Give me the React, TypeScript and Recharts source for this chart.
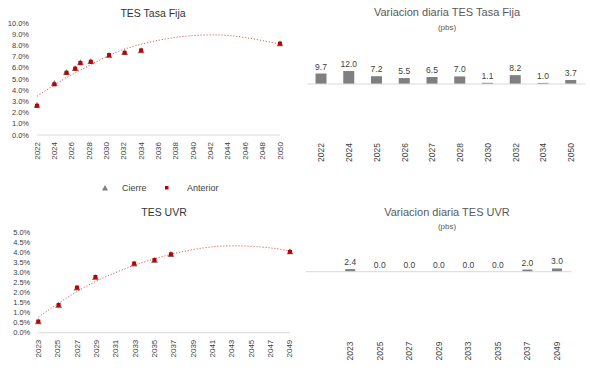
import React from 'react';
import {
  ComposedChart, BarChart, Bar, Line, Scatter, XAxis, YAxis, ReferenceLine, LabelList,
} from 'recharts';

// TES Tasa Fija curve (years are fractional maturities)
const fijaYears = [2022.0, 2024.0, 2025.4, 2026.4, 2027.0, 2028.2, 2030.3, 2032.1, 2034.0, 2050.0];
const fijaCierre = [2.66, 4.6, 5.58, 5.94, 6.45, 6.56, 7.1, 7.37, 7.52, 8.15];
const fijaAnterior = [2.56, 4.48, 5.51, 5.88, 6.39, 6.49, 7.09, 7.29, 7.51, 8.11];
const fijaTrendYears = [2022, 2025, 2028, 2031, 2034, 2037, 2040, 2043, 2046, 2050];
const fijaTrend = [3.45, 4.95, 6.2, 7.35, 8.1, 8.6, 8.88, 8.93, 8.7, 8.12];
const fijaTicks = [2022, 2024, 2026, 2028, 2030, 2032, 2034, 2036, 2038, 2040, 2042, 2044, 2046, 2048, 2050];
const fijaYTicks = [0, 1, 2, 3, 4, 5, 6, 7, 8, 9, 10];

// variacion diaria tasa fija (pbs)
const fijaCats = ['2022', '2024', '2025', '2026', '2027', '2028', '2030', '2032', '2034', '2050'];
const fijaVar = [9.7, 12.0, 7.2, 5.5, 6.5, 7.0, 1.1, 8.2, 1.0, 3.7];

// TES UVR curve
const uvrYears = [2023.0, 2025.1, 2027.0, 2028.9, 2032.9, 2035.0, 2036.7, 2049.0];
const uvrCierre = [0.55, 1.36, 2.22, 2.75, 3.42, 3.6, 3.9, 4.03];
const uvrAnterior = [0.53, 1.36, 2.22, 2.75, 3.42, 3.6, 3.88, 4.0];
const uvrTrendYears = [2023, 2027, 2031, 2035, 2039, 2043, 2047, 2049];
const uvrTrend = [0.77, 2.05, 3.0, 3.68, 4.14, 4.33, 4.22, 4.05];
const uvrTicks = [2023, 2025, 2027, 2029, 2031, 2033, 2035, 2037, 2039, 2041, 2043, 2045, 2047, 2049];
const uvrYTicks = [0, 0.5, 1, 1.5, 2, 2.5, 3, 3.5, 4, 4.5, 5];

// variacion diaria UVR (pbs), first slot is empty in the original
const uvrCats = ['', '2023', '2025', '2027', '2029', '2033', '2035', '2037', '2049'];
const uvrVar = [null, 2.4, 0.0, 0.0, 0.0, 0.0, 0.0, 2.0, 3.0];

const toPts = (xs: number[], ys: number[]) => xs.map((x, i) => ({ x, y: ys[i] }));

const GRAY = '#7f7f7f';
const RED = '#c00000';
const TXT = '#404040';
const FONT = '"Liberation Sans", Arial, sans-serif';

const Tri = (p: any) => (
  <polygon
    points={`${p.cx},${p.cy - 3.5} ${p.cx - 3.5},${p.cy + 2.5} ${p.cx + 3.5},${p.cy + 2.5}`}
    fill={GRAY}
  />
);
const Sq = (p: any) => <rect x={p.cx - 2} y={p.cy - 2.5} width={4} height={4} fill={RED} />;

const rotTick = (fs: number) => (p: any) => (
  <text
    x={p.x}
    y={p.y}
    transform={`rotate(-90, ${p.x}, ${p.y})`}
    textAnchor="end"
    dominantBaseline="central"
    fontSize={fs}
    fill={TXT}
    fontFamily={FONT}
  >
    {p.payload.value}
  </text>
);

const pct = (v: number) => v.toFixed(1) + '%';

function Title({ x, y, text, size, color }: { x: number; y: number; text: string; size: number; color: string }) {
  return (
    <div style={{
      position: 'absolute', left: x - 150, top: y - size * 0.6, width: 300, textAlign: 'center',
      fontSize: size, color, fontFamily: FONT, fontWeight: 400, lineHeight: 1.2 + '', whiteSpace: 'nowrap',
    }}>{text}</div>
  );
}

function CurveChart(props: {
  cierre: any[]; anterior: any[]; trend: any[]; ticks: number[]; yTicks: number[];
  height: number; margin: any; xAxisH: number;
}) {
  const { cierre, anterior, trend, ticks, yTicks, height, margin, xAxisH } = props;
  return (
    <ComposedChart width={300} height={height} margin={margin}>
      <XAxis
        type="number" dataKey="x" domain={[ticks[0], ticks[ticks.length - 1]]} ticks={ticks}
        interval={0} height={xAxisH} tickLine={false} tickSize={0} tickMargin={7}
        axisLine={{ stroke: '#d9d9d9' }} tick={rotTick(8)}
      />
      <YAxis
        type="number" dataKey="y" domain={[yTicks[0], yTicks[yTicks.length - 1]]} ticks={yTicks}
        interval={0} width={35} axisLine={false} tickLine={false} tickSize={0} tickMargin={8}
        tickFormatter={pct} tick={{ fontSize: 7.5, fill: TXT, fontFamily: FONT }}
      />
      <Line
        data={trend} dataKey="y" type="natural" stroke="#e06060" strokeWidth={1}
        strokeDasharray="1.2 1.8" dot={false} activeDot={false} isAnimationActive={false}
      />
      <Scatter data={cierre} dataKey="y" shape={Tri} isAnimationActive={false} />
      <Scatter data={anterior} dataKey="y" shape={Sq} isAnimationActive={false} />
    </ComposedChart>
  );
}

function VarChart(props: {
  cats: string[]; vals: (number | null)[]; height: number; margin: any; xAxisH: number;
  domain: number[]; barSize: number;
}) {
  const { cats, vals, height, margin, xAxisH, domain, barSize } = props;
  const data = cats.map((c, i) => ({ cat: c, v: vals[i] }));
  return (
    <BarChart width={289} height={height} data={data} margin={margin}>
      <XAxis
        dataKey="cat" interval={0} height={xAxisH} axisLine={false} tickLine={false}
        tickSize={0} tickMargin={5} tick={rotTick(8.5)}
      />
      <YAxis hide domain={domain} type="number" />
      <ReferenceLine y={0} stroke="#d9d9d9" />
      <Bar dataKey="v" fill={GRAY} barSize={barSize} minPointSize={0.01} isAnimationActive={false}>
        <LabelList
          dataKey="v" position="top" offset={4}
          formatter={(v: any) => (v == null ? '' : Number(v).toFixed(1))}
          style={{ fontSize: 8.5, fill: TXT, fontFamily: FONT }}
        />
      </Bar>
    </BarChart>
  );
}

export default function App() {
  return (
    <div style={{ position: 'absolute', left: 0, top: 0, width: 589, height: 381, background: '#fff', fontFamily: FONT }}>
      {/* top left */}
      <div style={{ position: 'absolute', left: 0, top: 0 }}>
        <CurveChart
          cierre={toPts(fijaYears, fijaCierre)} anterior={toPts(fijaYears, fijaAnterior)}
          trend={toPts(fijaTrendYears, fijaTrend)} ticks={fijaTicks} yTicks={fijaYTicks}
          height={200} margin={{ top: 23, right: 20, left: 2, bottom: 0 }} xAxisH={65}
        />
      </div>
      <Title x={153} y={13} text="TES Tasa Fija" size={10.5} color="#333" />
      <div style={{ position: 'absolute', left: 95, top: 182, height: 12, fontSize: 9, color: TXT, fontFamily: FONT }}>
        <svg width={140} height={12} style={{ position: 'absolute', left: 0, top: 0 }}>
          <polygon points="10,3 7,8.5 13,8.5" fill={GRAY} />
          <rect x={70} y={4} width={3.5} height={3.5} fill={RED} />
        </svg>
        <span style={{ position: 'absolute', left: 27, top: 0, lineHeight: '12px' }}>Cierre</span>
        <span style={{ position: 'absolute', left: 92, top: 0, lineHeight: '12px' }}>Anterior</span>
      </div>

      {/* top right */}
      <div style={{ position: 'absolute', left: 300, top: 0 }}>
        <VarChart
          cats={fijaCats} vals={fijaVar} height={200} domain={[-50, 30]} barSize={11}
          margin={{ top: 51.6, right: 4, left: 7.5, bottom: 0 }} xAxisH={62}
        />
      </div>
      <Title x={447} y={13} text="Variacion diaria TES Tasa Fija" size={11} color="#595959" />
      <Title x={447} y={28} text="(pbs)" size={8} color="#595959" />

      {/* bottom left */}
      <div style={{ position: 'absolute', left: 0, top: 200 }}>
        <CurveChart
          cierre={toPts(uvrYears, uvrCierre)} anterior={toPts(uvrYears, uvrAnterior)}
          trend={toPts(uvrTrendYears, uvrTrend)} ticks={uvrTicks} yTicks={uvrYTicks}
          height={181} margin={{ top: 32.3, right: 10, left: 3.3, bottom: 0 }} xAxisH={48.3}
        />
      </div>
      <Title x={164} y={212} text="TES UVR" size={10.5} color="#333" />

      {/* bottom right */}
      <div style={{ position: 'absolute', left: 300, top: 200 }}>
        <VarChart
          cats={uvrCats} vals={uvrVar} height={181} domain={[-60, 30]} barSize={10}
          margin={{ top: 39.3, right: 17.5, left: 5.7, bottom: 0 }} xAxisH={44.5}
        />
      </div>
      <Title x={447} y={213} text="Variacion diaria TES UVR" size={11} color="#595959" />
      <Title x={447} y={227} text="(pbs)" size={8} color="#595959" />
    </div>
  );
}
